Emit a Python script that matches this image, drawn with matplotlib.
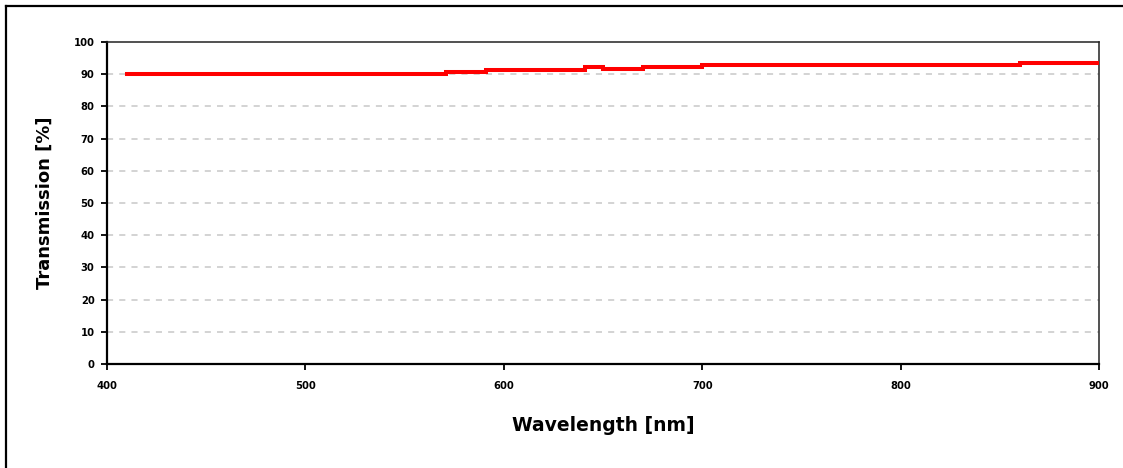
import matplotlib
matplotlib.use("Agg")
import matplotlib.pyplot as plt
from matplotlib.lines import Line2D

# Data
wavelength_edges = [410, 571, 591, 641, 650, 670, 700, 860, 900]
transmission = [90.2, 90.8, 91.4, 92.3, 91.5, 92.2, 92.8, 93.5]
x_ticks = [400, 500, 600, 700, 800, 900]
y_ticks = [0, 10, 20, 30, 40, 50, 60, 70, 80, 90, 100]

W, H = 1123, 468
fig = plt.figure(figsize=(W / 100, H / 100), dpi=100)
fig.patch.set_facecolor("white")

ax = fig.add_axes([107 / W, (H - 364) / H, (1099 - 107) / W, (364 - 42) / H])

ys = transmission + [transmission[-1]]
ax.step(wavelength_edges, ys, where="post", color="#ff0000", lw=2.9,
        solid_joinstyle="miter", zorder=3)

ax.set_xlim(400, 900)
ax.set_ylim(0, 100)
ax.set_xticks(x_ticks)
ax.set_yticks(y_ticks)
ax.set_xticklabels([str(v) for v in x_ticks], fontsize=7.2, fontweight="bold",
                   family="DejaVu Sans")
ax.set_yticklabels([str(v) for v in y_ticks], fontsize=7.2, fontweight="bold",
                   family="DejaVu Sans")
ax.tick_params(axis="both", direction="out", length=4, width=1.3, colors="black")
ax.tick_params(axis="x", pad=8)
ax.tick_params(axis="y", pad=5)

ax.yaxis.grid(True, color="#c8c8c8", lw=1.1, linestyle=(0, (4, 4)))
gl = ax.get_ygridlines()
gl[0].set_visible(False)
gl[-1].set_visible(False)
ax.set_axisbelow(True)

for side in ["left", "bottom"]:
    ax.spines[side].set_linewidth(1.6)
    ax.spines[side].set_color("black")
for side in ["top", "right"]:
    ax.spines[side].set_linewidth(1.1)
    ax.spines[side].set_color("#222222")

ax.set_xlabel("Wavelength [nm]", fontsize=13.5, fontweight="bold",
              family="DejaVu Sans", labelpad=18)
ax.set_ylabel("Transmission [%]", fontsize=13, fontweight="bold",
              family="DejaVu Sans", labelpad=14)

# outer border (left and top only)
fig.add_artist(Line2D([6 / W, 6 / W], [0, 1 - 6 / H], transform=fig.transFigure,
                      color="black", lw=1.6))
fig.add_artist(Line2D([6 / W, 1], [1 - 6 / H, 1 - 6 / H], transform=fig.transFigure,
                      color="black", lw=1.6))

fig.savefig("out.png", dpi=100, facecolor="white")
